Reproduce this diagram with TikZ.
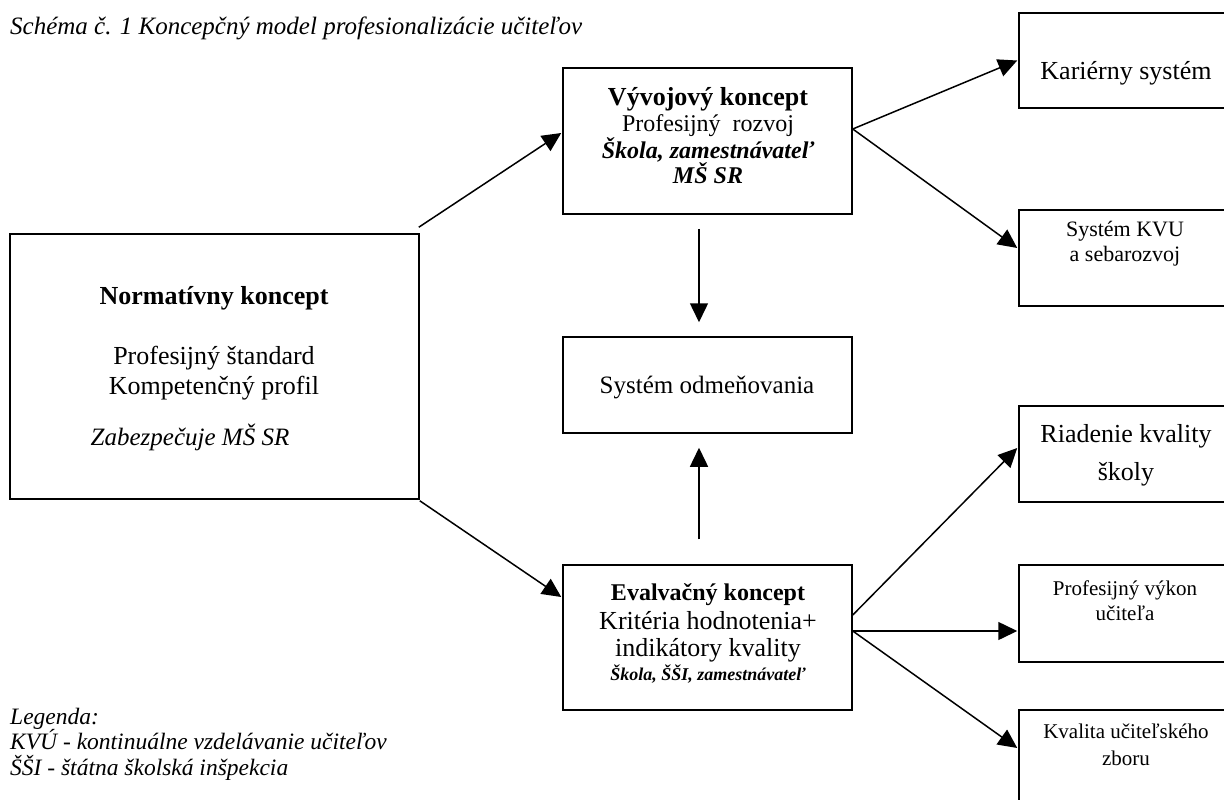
\documentclass[tikz,border=0pt]{standalone}
\usepackage{fontspec}
\setmainfont{Liberation Serif}
\usetikzlibrary{arrows.meta,calc}
\tikzset{
  box/.style={draw, line width=1.5pt, inner sep=0pt, anchor=center},
  txt/.style={anchor=base, inner sep=0pt},
  fs/.style={font=\fontsize{#1}{#1}\selectfont},
  arr/.style={line width=1.5pt, -{Triangle[length=19pt,width=18pt]}}
}
\begin{document}
\begin{tikzpicture}[x=1pt,y=-1pt]
\useasboundingbox (0,0) rectangle (1224,800);
\clip (0,0) rectangle (1224,800);

% title
\node[txt, anchor=base west, fs=25] (title) at (10,35) {\itshape Schéma č. 1 Koncepčný model profesionalizácie učiteľov};

% boxes
\node[box, minimum width=409pt, minimum height=265pt] (nor) at (214.5,366.5) {};
\node[box, minimum width=289pt, minimum height=146pt] (vyv) at (707.5,141) {};
\node[box, minimum width=289pt, minimum height=96pt] (odm) at (707.5,385) {};
\node[box, minimum width=289pt, minimum height=145pt] (eva) at (707.5,637.5) {};
\node[box, minimum width=221pt, minimum height=95pt] (kar) at (1129.5,60.5) {};
\node[box, minimum width=221pt, minimum height=96pt] (kvu) at (1129.5,258) {};
\node[box, minimum width=221pt, minimum height=96pt] (ria) at (1129.5,454) {};
\node[box, minimum width=221pt, minimum height=97pt] (vyk) at (1129.5,613.5) {};
\node[box, minimum width=221pt, minimum height=100pt] (kva) at (1129.5,760) {};

% texts
\node[txt, fs=26] (nor1) at (214,304) {\bfseries Normatívny koncept};
\node[txt, fs=26] (nor2) at (214,364) {Profesijný štandard};
\node[txt, fs=26] (nor3) at (214,394) {Kompetenčný profil};
\node[txt, fs=25] (nor4) at (190,445) {\itshape Zabezpečuje MŠ SR};

\node[txt, fs=26] (vyv1) at (708,106) {\bfseries Vývojový koncept};
\node[txt, fs=24] (vyv2) at (708,131) {Profesijný\ \ rozvoj};
\node[txt, fs=24] (vyv3) at (708,158) {\bfseries\itshape Škola, zamestnávateľ};
\node[txt, fs=24] (vyv4) at (708,183) {\bfseries\itshape MŠ SR};

\node[txt, fs=25] (odm1) at (707,393) {Systém odmeňovania};

\node[txt, fs=24] (eva1) at (708,600) {\bfseries Evalvačný koncept};
\node[txt, fs=26] (eva2) at (708,629) {Kritéria hodnotenia+};
\node[txt, fs=26] (eva3) at (708,656) {indikátory kvality};
\node[txt, fs=18] (eva4) at (708,680) {\bfseries\itshape Škola, ŠŠI, zamestnávateľ};

\node[txt, fs=26] (kar1) at (1126,80) {Kariérny systém};
\node[txt, fs=22] (kvu1) at (1125,236) {Systém KVU};
\node[txt, fs=22] (kvu2) at (1125,261) {a sebarozvoj};
\node[txt, fs=26] (ria1) at (1126,442) {Riadenie kvality};
\node[txt, fs=26] (ria2) at (1126,480) {školy};
\node[txt, fs=21] (vyk1) at (1125,595) {Profesijný výkon};
\node[txt, fs=21] (vyk2) at (1125,620) {učiteľa};
\node[txt, fs=21] (kva1) at (1126,738) {Kvalita učiteľského};
\node[txt, fs=21] (kva2) at (1126,765) {zboru};

% legend
\node[txt, anchor=base west, fs=23.5] (leg1) at (10,724) {\itshape Legenda:};
\node[txt, anchor=base west, fs=23.5] (leg2) at (10,749) {\itshape KVÚ - kontinuálne vzdelávanie učiteľov};
\node[txt, anchor=base west, fs=23.5] (leg3) at (10,775) {\itshape ŠŠI - štátna školská inšpekcia};

% arrows
\draw[arr] ([shift={(-1,-6)}]nor.north east) -- ([shift={(-1,-8)}]vyv.west);
\draw[arr] ([shift={(0,1)}]nor.south east) -- ([shift={(-1,-40.5)}]eva.west);
\draw[arr] ([shift={(0,-12)}]vyv.east) -- ([shift={(-1,0)}]kar.west);
\draw[arr] ([shift={(0,-12)}]vyv.east) -- ([shift={(-1,-10)}]kvu.west);
\draw[arr] ([shift={(-8.5,14)}]vyv.south) -- ([shift={(-8.5,-14)}]odm.north);
\draw[arr] ([shift={(-8.5,-25)}]eva.north) -- ([shift={(-8.5,14)}]odm.south);
\draw[arr] ([shift={(0,-22.5)}]eva.east) -- ([shift={(-1,-6)}]ria.west);
\draw[arr] ([shift={(0,-6.5)}]eva.east) -- ([shift={(-1,17.5)}]vyk.west);
\draw[arr] ([shift={(0,-6.5)}]eva.east) -- ([shift={(-1,-12)}]kva.west);
\end{tikzpicture}
\end{document}
